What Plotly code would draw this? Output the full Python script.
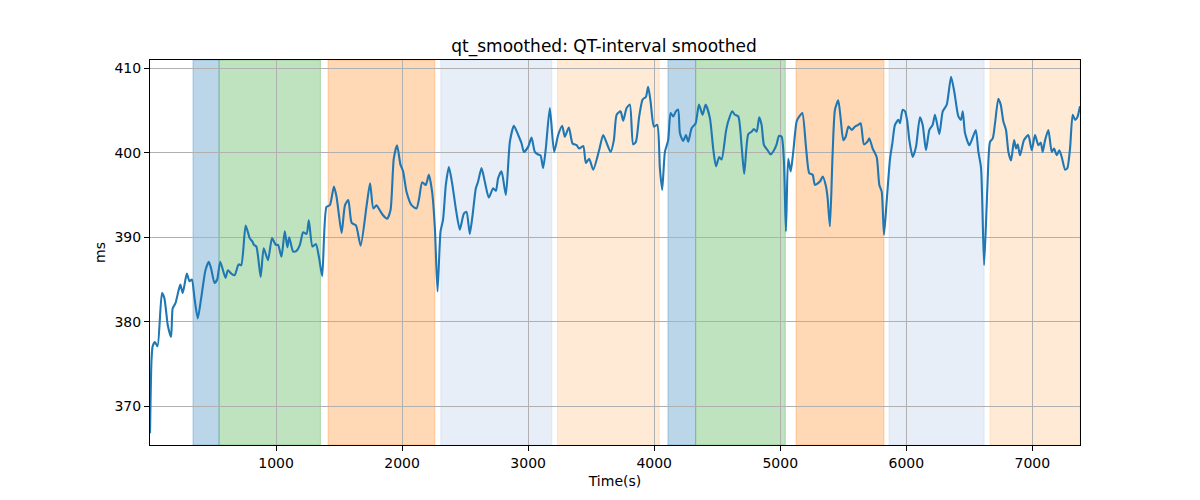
import plotly.graph_objects as go

# ---- data ----
time_s = [0, 12, 21, 39, 60, 95, 114, 141, 167, 180, 202, 228, 241, 260, 292, 313, 332, 353, 379, 406,
          440, 467, 485, 512, 533, 557, 599, 618, 645, 671, 703, 724, 759, 791, 812, 825, 844, 878, 902, 936,
          968, 998, 1016, 1043, 1069, 1090, 1104, 1136, 1162, 1189, 1215, 1242, 1260, 1289, 1316, 1342, 1366,
          1400, 1427, 1459, 1480, 1520, 1547, 1573, 1600, 1634, 1671, 1719, 1746, 1772, 1797, 1823, 1849, 1881,
          1908, 1934, 1960, 1987, 2008, 2035, 2075, 2114, 2135, 2159, 2188, 2212, 2238, 2260, 2281, 2305, 2325,
          2347, 2371, 2397, 2426, 2458, 2490, 2511, 2537, 2559, 2585, 2603, 2630, 2656, 2688, 2722, 2744, 2762,
          2789, 2823, 2855, 2887, 2921, 2948, 2966, 3000, 3027, 3053, 3079, 3098, 3119, 3140, 3172, 3206, 3238,
          3270, 3291, 3323, 3352, 3384, 3405, 3437, 3458, 3484, 3516, 3563, 3595, 3622, 3654, 3680, 3702, 3733,
          3754, 3781, 3807, 3833, 3855, 3881, 3908, 3934, 3952, 3971, 3998, 4024, 4045, 4063, 4085, 4111, 4130,
          4151, 4172, 4190, 4204, 4230, 4252, 4270, 4297, 4329, 4355, 4384, 4408, 4442, 4468, 4490, 4516, 4535,
          4569, 4587, 4619, 4640, 4667, 4694, 4714, 4746, 4773, 4791, 4813, 4833, 4852, 4871, 4900, 4924, 4950,
          4971, 4990, 5011, 5029, 5045, 5063, 5083, 5103, 5130, 5151, 5175, 5204, 5230, 5257, 5275, 5315, 5337,
          5363, 5376, 5394, 5415, 5434, 5460, 5479, 5500, 5519, 5541, 5567, 5593, 5619, 5638, 5664, 5691, 5707,
          5733, 5765, 5786, 5805, 5823, 5844, 5871, 5889, 5910, 5937, 5950, 5971, 5990, 6008, 6024, 6051, 6077,
          6108, 6130, 6156, 6183, 6209, 6228, 6262, 6289, 6321, 6355, 6381, 6413, 6434, 6448, 6466, 6500, 6519,
          6551, 6572, 6593, 6617, 6643, 6664, 6686, 6704, 6730, 6749, 6770, 6791, 6810, 6831, 6855, 6871, 6884,
          6902, 6934, 6968, 6995, 7021, 7048, 7067, 7082, 7101, 7127, 7154, 7172, 7194, 7214, 7233, 7260, 7278,
          7299, 7320, 7339, 7357, 7378]
qt_ms = [366.8, 375.5, 377.1, 377.6, 377.1, 383.4, 382.8, 379.6, 378.2, 381.6, 382.2, 383.8, 384.4, 383.4,
         385.7, 384.8, 385.0, 382.8, 380.4, 382.8, 386.1, 387.1, 386.3, 384.6, 385.0, 387.1, 385.2, 386.1,
         385.7, 385.5, 386.8, 386.7, 391.4, 389.9, 389.5, 389.1, 388.9, 385.3, 388.7, 387.3, 389.9, 389.1,
         389.1, 387.7, 390.7, 388.8, 390.0, 388.3, 388.4, 389.1, 390.6, 390.4, 392.0, 388.9, 389.2, 387.5,
         385.4, 393.6, 393.8, 396.0, 394.8, 390.5, 393.8, 394.4, 391.7, 391.4, 389.0, 393.8, 396.4, 393.4,
         393.8, 393.2, 392.6, 392.2, 393.2, 399.3, 400.9, 398.6, 397.8, 395.4, 393.8, 393.4, 394.6, 396.5,
         396.2, 397.4, 395.4, 391.1, 383.6, 390.7, 392.1, 396.2, 398.3, 396.4, 393.4, 390.9, 392.8, 393.0,
         390.4, 392.6, 395.8, 396.6, 398.2, 396.6, 394.7, 395.8, 395.5, 397.0, 397.8, 395.0, 401.3, 403.2,
         402.1, 401.1, 400.1, 400.7, 401.8, 400.1, 399.8, 399.7, 398.2, 400.5, 405.3, 400.1, 402.1, 403.2,
         401.9, 403.0, 401.1, 400.9, 400.5, 400.8, 398.8, 399.3, 398.0, 400.3, 402.1, 401.2, 400.1, 401.5,
         404.5, 404.9, 403.8, 405.3, 405.7, 401.0, 401.3, 404.3, 406.3, 406.6, 407.8, 406.1, 403.1, 403.3,
         398.2, 395.6, 400.1, 401.5, 404.7, 404.3, 404.9, 405.1, 402.3, 401.4, 402.1, 401.3, 402.9, 403.5,
         405.7, 404.5, 405.7, 404.1, 400.5, 398.4, 399.5, 399.2, 402.5, 403.7, 404.9, 404.5, 404.3, 400.7,
         397.5, 402.2, 402.5, 402.8, 402.5, 404.2, 403.3, 400.9, 400.3, 399.8, 400.3, 401.0, 402.0, 401.9,
         399.0, 390.7, 399.3, 397.8, 400.1, 403.7, 404.3, 404.7, 400.7, 397.6, 397.4, 396.2, 396.6, 397.2,
         396.0, 394.6, 391.3, 399.7, 405.1, 406.2, 404.1, 401.5, 401.9, 403.1, 402.7, 403.1, 403.3, 403.5,
         401.0, 401.3, 401.7, 400.5, 399.5, 396.2, 395.4, 390.3, 394.2, 399.3, 401.1, 403.3, 403.9, 403.5,
         405.1, 404.9, 403.7, 401.5, 399.5, 400.7, 404.2, 403.3, 400.3, 402.7, 403.3, 404.5, 402.2, 404.9,
         405.7, 409.0, 407.2, 404.3, 403.9, 404.9, 402.3, 400.9, 401.5, 402.7, 400.1, 398.2, 386.7, 395.8,
         401.3, 401.7, 403.5, 406.4, 405.7, 403.7, 402.7, 400.1, 399.1, 401.5, 400.5, 401.0, 399.7, 401.5,
         402.1, 400.3, 402.1, 400.9, 401.2, 400.1, 401.5, 402.7, 400.1, 400.5, 399.7, 400.3, 399.5, 398.0,
         398.2, 400.5, 404.5, 403.9, 404.2, 405.5]

band_start = [341, 548, 1413, 2307, 3233, 4109, 4329, 5125, 5863, 6664]
band_end = [548, 1352, 2260, 3188, 4040, 4329, 5040, 5823, 6617, 7378]
band_color = ["rgba(31,119,180,0.3)", "rgba(44,160,44,0.3)", "rgba(255,127,14,0.3)",
              "rgba(174,199,232,0.3)", "rgba(255,187,120,0.3)",
              "rgba(31,119,180,0.3)", "rgba(44,160,44,0.3)", "rgba(255,127,14,0.3)",
              "rgba(174,199,232,0.3)", "rgba(255,187,120,0.3)"]

x_ticks = [1000, 2000, 3000, 4000, 5000, 6000, 7000]
y_ticks = [370, 380, 390, 400, 410]

fig = go.Figure()
fig.add_trace(go.Scatter(x=time_s, y=qt_ms, mode="lines",
                         line=dict(color="#1f77b4", width=2.1, shape="spline", smoothing=0.6),
                         showlegend=False))

for s, e, c in zip(band_start, band_end, band_color):
    fig.add_shape(type="rect", xref="x", yref="paper", x0=s, x1=e, y0=0, y1=1,
                  fillcolor=c, line=dict(color=c, width=1), layer="below")

axis_common = dict(showline=True, linecolor="black", linewidth=1, mirror=True,
                   ticks="outside", ticklen=5, tickwidth=1, tickcolor="black",
                   showgrid=True, gridcolor="#b0b0b0", gridwidth=1, zeroline=False,
                   automargin=False, tickfont=dict(size=14, color="black"))

W, H = 1192, 492  # page body has an 8px margin
fig.update_layout(
    width=W, height=H,
    margin=dict(l=142, r=120, t=52, b=55),
    paper_bgcolor="white", plot_bgcolor="white",
    font=dict(family="DejaVu Sans", color="black"),
    title=dict(text="qt_smoothed: QT-interval smoothed", x=0.5, xanchor="center",
               y=1 - 38 / H, yanchor="middle", yref="container", font=dict(size=17)),
    xaxis=dict(range=[0, 7378], tickvals=x_ticks,
               title=dict(text="Time(s)", font=dict(size=14), standoff=6), **axis_common),
    yaxis=dict(range=[365.42, 410.98], tickvals=y_ticks,
               title=dict(text="ms", font=dict(size=14), standoff=5), **axis_common),
)

fig.write_html("out.html")
